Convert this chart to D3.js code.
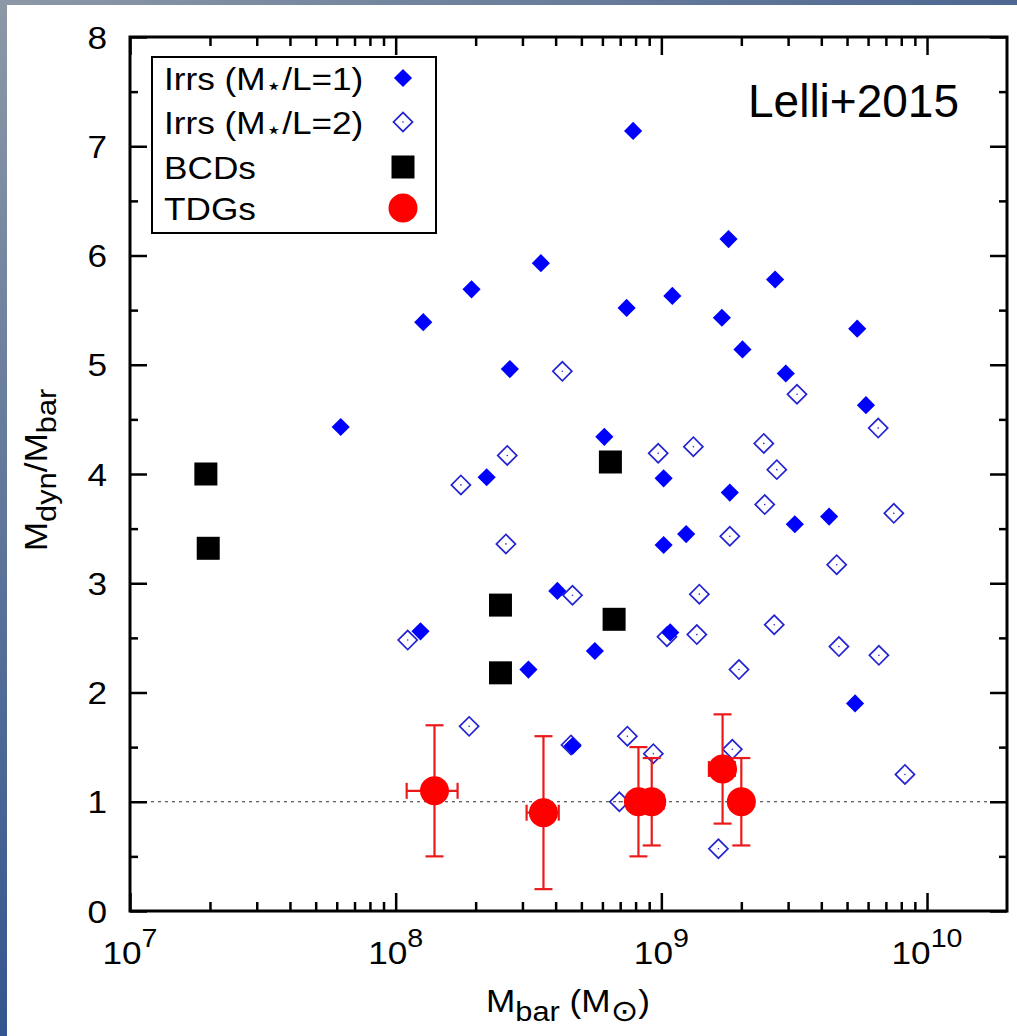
<!DOCTYPE html>
<html>
<head>
<meta charset="utf-8">
<script src="https://cdn.jsdelivr.net/npm/d3@7"></script>
<style>
  html, body { margin: 0; padding: 0; background: #fff; }
  svg { display: block; }
  text { font-family: "Liberation Sans", Arial, Helvetica, sans-serif; fill: #000; }
</style>
</head>
<body>
<svg id="chart" width="1017" height="1036"></svg>
<script>
// Irregulars, stellar mass-to-light ratio 1 (filled diamonds)
const irr1Mass  = [7.83e8, 1.79e9, 3.52e8, 1.93e8, 1.27e8, 2.69e8, 6.21e7, 2.20e8, 1.24e8, 3.16e8,
                   2.68e9, 1.10e9, 7.40e8, 1.69e9, 5.46e9, 2.02e9, 2.94e9, 5.89e9, 6.10e8, 1.02e9,
                   1.81e9, 4.28e9, 3.18e9, 1.24e9, 1.02e9, 4.06e8, 1.08e9, 5.62e8, 4.63e8, 5.36e9];
const irr1Ratio = [7.14, 6.15, 5.93, 5.69, 5.39, 4.96, 4.43, 3.97, 2.56, 2.21,
                   5.78, 5.63, 5.52, 5.43, 5.33, 5.14, 4.92, 4.63, 4.34, 3.96,
                   3.83, 3.61, 3.54, 3.45, 3.35, 2.93, 2.55, 2.38, 1.51, 1.90];

// Irregulars, stellar mass-to-light ratio 2 (open diamonds)
const irr2Mass  = [4.24e8, 3.24e9, 6.55e9, 2.43e9, 1.32e9, 9.73e8, 2.72e9, 2.45e9, 7.50e9, 1.81e9,
                   4.57e9, 4.63e8, 1.39e9, 2.66e9, 1.05e9, 1.36e9, 4.66e9, 6.59e9, 1.96e9, 2.63e8,
                   1.76e8, 2.60e8, 1.11e8, 1.89e8, 7.45e8, 9.33e8, 1.85e9, 6.95e8, 1.64e9, 8.26e9,
                   4.57e8];
const irr2Ratio = [4.94, 4.73, 4.42, 4.28, 4.25, 4.19, 4.04, 3.72, 3.64, 3.43,
                   3.17, 2.89, 2.90, 2.62, 2.51, 2.53, 2.42, 2.34, 2.21, 4.17,
                   3.90, 3.36, 2.48, 1.69, 1.60, 1.44, 1.48, 1.00, 0.57, 1.25,
                   1.52];

// Blue compact dwarfs (black squares)
const bcdMass  = [1.93e7, 1.97e7, 2.48e8, 2.48e8, 6.43e8, 6.64e8];
const bcdRatio = [4.00, 3.32, 2.80, 2.18, 4.11, 2.67];

// Tidal dwarf galaxies (red circles with error bars)
const tdgMass    = [1.40e8, 3.60e8, 8.20e8, 9.20e8, 1.70e9, 2.00e9];
const tdgMassLo  = [1.10e8, 3.11e8, 7.60e8, 8.20e8, 1.51e9, 1.90e9];
const tdgMassHi  = [1.71e8, 4.11e8, 8.80e8, 1.02e9, 1.89e9, 2.10e9];
const tdgRatio   = [1.10, 0.90, 1.00, 1.00, 1.30, 1.00];
const tdgRatioLo = [0.50, 0.20, 0.50, 0.60, 0.80, 0.60];
const tdgRatioHi = [1.70, 1.60, 1.50, 1.40, 1.80, 1.40];

// Axis ticks and labels
const xDecades   = [1e7, 1e8, 1e9, 1e10];
const xExponents = ["7", "8", "9", "10"];
const yMajor     = [0, 1, 2, 3, 4, 5, 6, 7, 8];
const yMinor     = [0.5, 1.5, 2.5, 3.5, 4.5, 5.5, 6.5, 7.5];
const legendLabels = ["Irrs (M", "Irrs (M", "BCDs", "TDGs"];
const legendSuffix = ["/L=1)", "/L=2)", "", ""];

const W = 1017, H = 1036;
const pLeft = 130, pRight = 1007, pTop = 37, pBottom = 911;
const SX = 1.1;           // figure text is set slightly wide
const FS = 32;            // figure font size
const BLUE = "#0000ff", OPEN_BLUE = "#2323d2", RED = "#ff0000", ERR_RED = "#ea1a1a";

const svg = d3.select("#chart");

// slide background edges
const defs = svg.append("defs");
const gv = defs.append("linearGradient").attr("id", "edgeV").attr("x1", 0).attr("y1", 0).attr("x2", 0).attr("y2", 1);
gv.append("stop").attr("offset", "0%").attr("stop-color", "#8c98a6");
gv.append("stop").attr("offset", "100%").attr("stop-color", "#33558f");
const gh = defs.append("linearGradient").attr("id", "edgeH").attr("x1", 0).attr("y1", 0).attr("x2", 1).attr("y2", 0);
gh.append("stop").attr("offset", "0%").attr("stop-color", "#8c98a6");
gh.append("stop").attr("offset", "100%").attr("stop-color", "#4d6792");
svg.append("rect").attr("width", W).attr("height", H).attr("fill", "#fff");
svg.append("rect").attr("x", 0).attr("y", 0).attr("width", 7).attr("height", H).attr("fill", "url(#edgeV)");
svg.append("rect").attr("x", 0).attr("y", 0).attr("width", W).attr("height", 5).attr("fill", "url(#edgeH)");

const x = d3.scaleLog().domain([1e7, 2e10]).range([pLeft, pRight]);
const y = d3.scaleLinear().domain([0, 8]).range([pBottom, pTop]);

// helper for horizontally widened text
function wideText(parent, tx, ty, anchor, size, rot) {
  const g = parent.append("g").attr("transform", `translate(${tx},${ty})` + (rot ? ` rotate(${rot})` : ""));
  return g.append("text").attr("transform", `scale(${SX},1)`)
    .attr("text-anchor", anchor).style("font-size", size + "px");
}

// reference line M_dyn = M_bar
svg.append("line")
  .attr("x1", pLeft).attr("x2", pRight).attr("y1", y(1)).attr("y2", y(1))
  .attr("stroke", "#333").attr("stroke-width", 1.2).attr("stroke-dasharray", "3,4");

const plot = svg.append("g");

// open diamonds
const diamondOpen = d3.symbol(d3.symbolSquare, 182)();
const g2 = plot.append("g").selectAll("g").data(d3.range(irr2Mass.length)).join("g")
  .attr("transform", i => `translate(${x(irr2Mass[i])},${y(irr2Ratio[i])})`);
g2.append("path").attr("d", diamondOpen).attr("transform", "rotate(45)")
  .attr("fill", "none").attr("stroke", OPEN_BLUE).attr("stroke-width", 1.7);
g2.append("circle").attr("r", 0.8).attr("fill", OPEN_BLUE);

// filled diamonds
const diamondFilled = d3.symbol(d3.symbolSquare, 165)();
plot.append("g").selectAll("path").data(d3.range(irr1Mass.length)).join("path")
  .attr("d", diamondFilled)
  .attr("transform", i => `translate(${x(irr1Mass[i])},${y(irr1Ratio[i])}) rotate(45)`)
  .attr("fill", BLUE);

// BCD squares
const square = d3.symbol(d3.symbolSquare, 529)();
plot.append("g").selectAll("path").data(d3.range(bcdMass.length)).join("path")
  .attr("d", square)
  .attr("transform", i => `translate(${x(bcdMass[i])},${y(bcdRatio[i])})`)
  .attr("fill", "#000");

// TDG error bars
const eb = plot.append("g").attr("stroke", ERR_RED).attr("stroke-width", 2.2).attr("fill", "none");
d3.range(tdgMass.length).forEach(i => {
  const cx = x(tdgMass[i]), cy = y(tdgRatio[i]);
  const yl = y(tdgRatioLo[i]), yh = y(tdgRatioHi[i]);
  const xl = x(tdgMassLo[i]), xh = x(tdgMassHi[i]);
  eb.append("line").attr("x1", cx).attr("x2", cx).attr("y1", yl).attr("y2", yh);
  eb.append("line").attr("x1", cx - 9).attr("x2", cx + 9).attr("y1", yl).attr("y2", yl);
  eb.append("line").attr("x1", cx - 9).attr("x2", cx + 9).attr("y1", yh).attr("y2", yh);
  eb.append("line").attr("x1", xl).attr("x2", xh).attr("y1", cy).attr("y2", cy);
  eb.append("line").attr("x1", xl).attr("x2", xl).attr("y1", cy - 8).attr("y2", cy + 8);
  eb.append("line").attr("x1", xh).attr("x2", xh).attr("y1", cy - 8).attr("y2", cy + 8);
});
plot.append("g").selectAll("circle").data(d3.range(tdgMass.length)).join("circle")
  .attr("cx", i => x(tdgMass[i])).attr("cy", i => y(tdgRatio[i]))
  .attr("r", 14.5).attr("fill", RED);

// axes: inward ticks on all four sides
const xMinor = x.ticks().filter(v => !xDecades.includes(v) && v < 2e10);
function styleAxis(g) {
  g.select(".domain").remove();
  g.selectAll(".tick line").attr("stroke", "#000").attr("stroke-width", 2.5);
  g.selectAll(".tick text").remove();
}
svg.append("g").attr("transform", `translate(0,${pBottom})`)
  .call(d3.axisBottom(x).tickValues(xDecades).tickSize(-18).tickFormat("")).call(styleAxis);
svg.append("g").attr("transform", `translate(0,${pBottom})`)
  .call(d3.axisBottom(x).tickValues(xMinor).tickSize(-9).tickFormat("")).call(styleAxis);
svg.append("g").attr("transform", `translate(0,${pTop})`)
  .call(d3.axisTop(x).tickValues(xDecades).tickSize(-18).tickFormat("")).call(styleAxis);
svg.append("g").attr("transform", `translate(0,${pTop})`)
  .call(d3.axisTop(x).tickValues(xMinor).tickSize(-9).tickFormat("")).call(styleAxis);
svg.append("g").attr("transform", `translate(${pLeft},0)`)
  .call(d3.axisLeft(y).tickValues(yMajor).tickSize(-17).tickFormat("")).call(styleAxis);
svg.append("g").attr("transform", `translate(${pLeft},0)`)
  .call(d3.axisLeft(y).tickValues(yMinor).tickSize(-8).tickFormat("")).call(styleAxis);
svg.append("g").attr("transform", `translate(${pRight},0)`)
  .call(d3.axisRight(y).tickValues(yMajor).tickSize(-17).tickFormat("")).call(styleAxis);
svg.append("g").attr("transform", `translate(${pRight},0)`)
  .call(d3.axisRight(y).tickValues(yMinor).tickSize(-8).tickFormat("")).call(styleAxis);

// frame
svg.append("rect").attr("x", pLeft).attr("y", pTop).attr("width", pRight - pLeft).attr("height", pBottom - pTop)
  .attr("fill", "none").attr("stroke", "#000").attr("stroke-width", 3);

// tick labels
yMajor.forEach(v => {
  wideText(svg, pLeft - 23, y(v), "end", FS).attr("dy", "0.36em").text(v);
});
xDecades.forEach((v, i) => {
  const t = wideText(svg, x(v), 964, "middle", FS);
  t.append("tspan").text("10");
  t.append("tspan").attr("dy", -17).style("font-size", "26px").text(xExponents[i]);
});

// axis titles
{
  const t = wideText(svg, 568, 1012, "middle", FS);
  t.append("tspan").text("M");
  t.append("tspan").attr("dy", 9).style("font-size", "28px").text("bar");
  t.append("tspan").attr("dy", -9).text(" (M");
  t.append("tspan").attr("dy", 9).style("font-size", "30px").style("font-family", "DejaVu Sans").text("⊙");
  t.append("tspan").attr("dy", -9).text(")");
}
{
  const t = wideText(svg, 47, 470, "middle", FS, -90);
  t.append("tspan").text("M");
  t.append("tspan").attr("dy", 9).style("font-size", "28px").text("dyn");
  t.append("tspan").attr("dy", -9).text("/M");
  t.append("tspan").attr("dy", 9).style("font-size", "28px").text("bar");
}

// legend
const lg = svg.append("g");
lg.append("rect").attr("x", 152).attr("y", 57).attr("width", 284).attr("height", 176)
  .attr("fill", "#fff").attr("stroke", "#000").attr("stroke-width", 2);
const rowY = [78, 122, 167, 208];
legendLabels.forEach((lab, i) => {
  const t = wideText(lg, 164, rowY[i], "start", FS).attr("dy", "0.36em");
  t.append("tspan").text(lab);
  if (legendSuffix[i]) {
    t.append("tspan").attr("dy", 4).style("font-size", "24px").style("font-family", "DejaVu Sans").text("⋆");
    t.append("tspan").attr("dy", -4).text(legendSuffix[i]);
  }
});
lg.append("path").attr("d", diamondFilled).attr("transform", `translate(403,${rowY[0]}) rotate(45)`).attr("fill", BLUE);
lg.append("path").attr("d", diamondOpen).attr("transform", `translate(403,${rowY[1]}) rotate(45)`)
  .attr("fill", "none").attr("stroke", OPEN_BLUE).attr("stroke-width", 1.7);
lg.append("circle").attr("cx", 403).attr("cy", rowY[1]).attr("r", 0.8).attr("fill", OPEN_BLUE);
lg.append("path").attr("d", square).attr("transform", `translate(403,${rowY[2]})`).attr("fill", "#000");
lg.append("circle").attr("cx", 403).attr("cy", rowY[3]).attr("r", 14.5).attr("fill", RED);

// citation
svg.append("text").attr("x", 748).attr("y", 117).style("font-size", "46px").text("Lelli+2015");
</script>
</body>
</html>
